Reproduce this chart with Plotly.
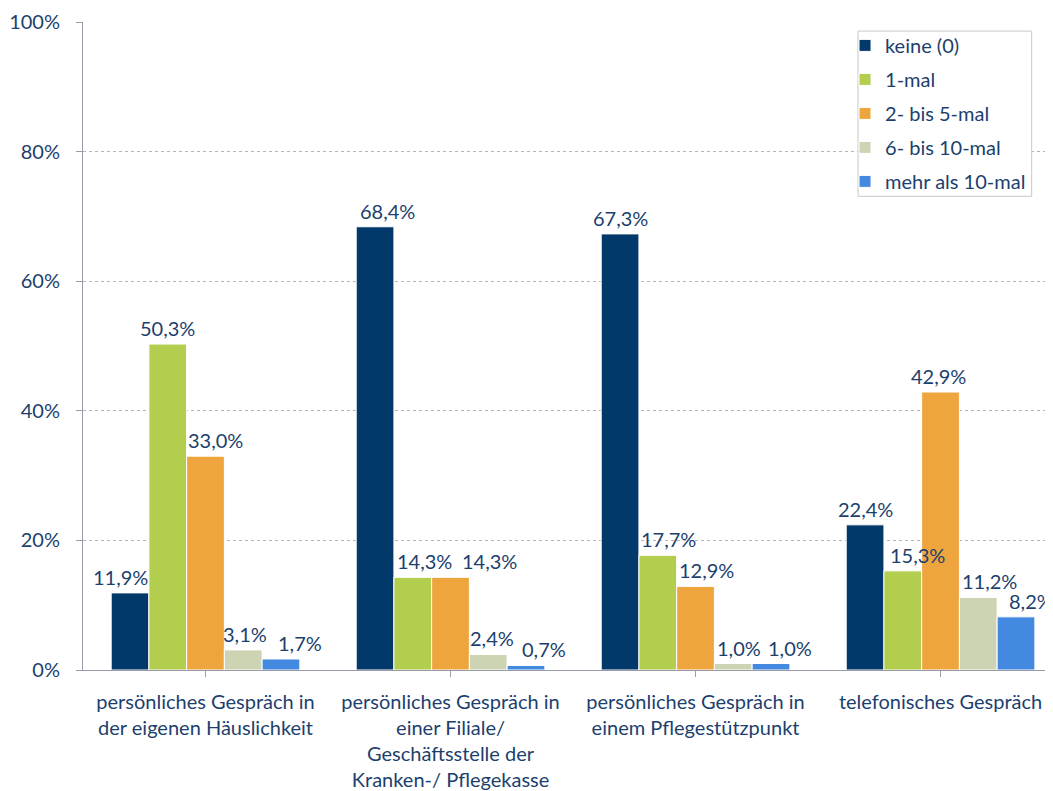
import plotly.graph_objects as go

categories = [
    "persönliches Gespräch in<br>der eigenen Häuslichkeit",
    "persönliches Gespräch in<br>einer Filiale/<br>Geschäftsstelle der<br>Kranken-/ Pflegekasse",
    "persönliches Gespräch in<br>einem Pflegestützpunkt",
    "telefonisches Gespräch",
]
series_names = ["keine (0)", "1-mal", "2- bis 5-mal", "6- bis 10-mal", "mehr als 10-mal"]
keine = [11.9, 68.4, 67.3, 22.4]
einmal = [50.3, 14.3, 17.7, 15.3]
zwei_bis_fuenf = [33.0, 14.3, 12.9, 42.9]
sechs_bis_zehn = [3.1, 2.4, 1.0, 11.2]
mehr_als_zehn = [1.7, 0.7, 1.0, 8.2]
y_ticks = [0, 20, 40, 60, 80, 100]
y_tick_labels = ["0%", "20%", "40%", "60%", "80%", "100%"]

# horizontal nudges of the value labels (pixels), as placed in the original chart
label_shift = [
    [-10, 12, 0, 0],
    [0, 12, 11, 15],
    [10, 39, 11, -2],
    [2, 4, 6, 11],
    [19, 18, 19, 15],
]

colors = ["#02386A", "#B3CD4F", "#EEA53E", "#CDD4B3", "#4489E0"]
text_color = "#1C3F6E"
font_family = "Lato, 'Open Sans', sans-serif"
bargap = 0.23

all_series = [keine, einmal, zwei_bis_fuenf, sechs_bis_zehn, mehr_als_zehn]
n_series = len(all_series)
xs = list(range(len(categories)))

fig = go.Figure()
for name, vals, col in zip(series_names, all_series, colors):
    fig.add_trace(go.Bar(
        name=name, x=xs, y=vals,
        marker=dict(color=col, line=dict(color="white", width=1)),
        legendgroup=name, hoverinfo="x+y",
    ))

bar_w = (1 - bargap) / n_series
for i, vals in enumerate(all_series):
    for j, v in enumerate(vals):
        xpos = xs[j] - (1 - bargap) / 2 + bar_w * (i + 0.5)
        fig.add_annotation(
            x=xpos, y=v, xref="x", yref="y",
            text=f"{v:.1f}%".replace(".", ","),
            showarrow=False, yanchor="bottom", xanchor="center",
            xshift=label_shift[i][j], yshift=2,
            font=dict(size=20, color=text_color, family=font_family),
        )

# legend frame
fig.add_shape(
    type="rect", xref="paper", yref="paper",
    x0=0.799, x1=0.978, y0=0.731, y1=0.986,
    line=dict(color="#C8C8C8", width=1), fillcolor="white", layer="above",
)

fig.update_layout(
    width=1045, height=783,
    margin=dict(l=75, r=0, t=14, b=118),
    barmode="group", bargap=bargap, bargroupgap=0,
    plot_bgcolor="white", paper_bgcolor="white",
    font=dict(family=font_family, size=20, color=text_color),
    legend=dict(
        x=0.7856, y=0.994, xanchor="left", yanchor="top",
        bgcolor="rgba(0,0,0,0)", borderwidth=0,
        font=dict(size=20, color=text_color, family=font_family),
        tracegroupgap=5, traceorder="grouped",
    ),
)
fig.update_xaxes(
    tickmode="array", tickvals=xs, ticktext=categories,
    range=[-0.5, 3.459], showline=True, linecolor="#9A9AA8", linewidth=1,
    ticks="outside", ticklen=6, tickcolor="#9A9AA8", tickson="boundaries",
    showgrid=False, zeroline=False, ticklabelstandoff=8,
)
fig.update_yaxes(
    range=[0, 100], tickmode="array", tickvals=y_ticks, ticktext=y_tick_labels,
    showline=True, linecolor="#9A9AA8", linewidth=1,
    ticks="outside", ticklen=6, tickcolor="#9A9AA8",
    showgrid=True, gridcolor="#B5B5B5", griddash="dot", gridwidth=1,
    zeroline=False, ticklabelstandoff=12,
)

fig.write_html("out.html")
